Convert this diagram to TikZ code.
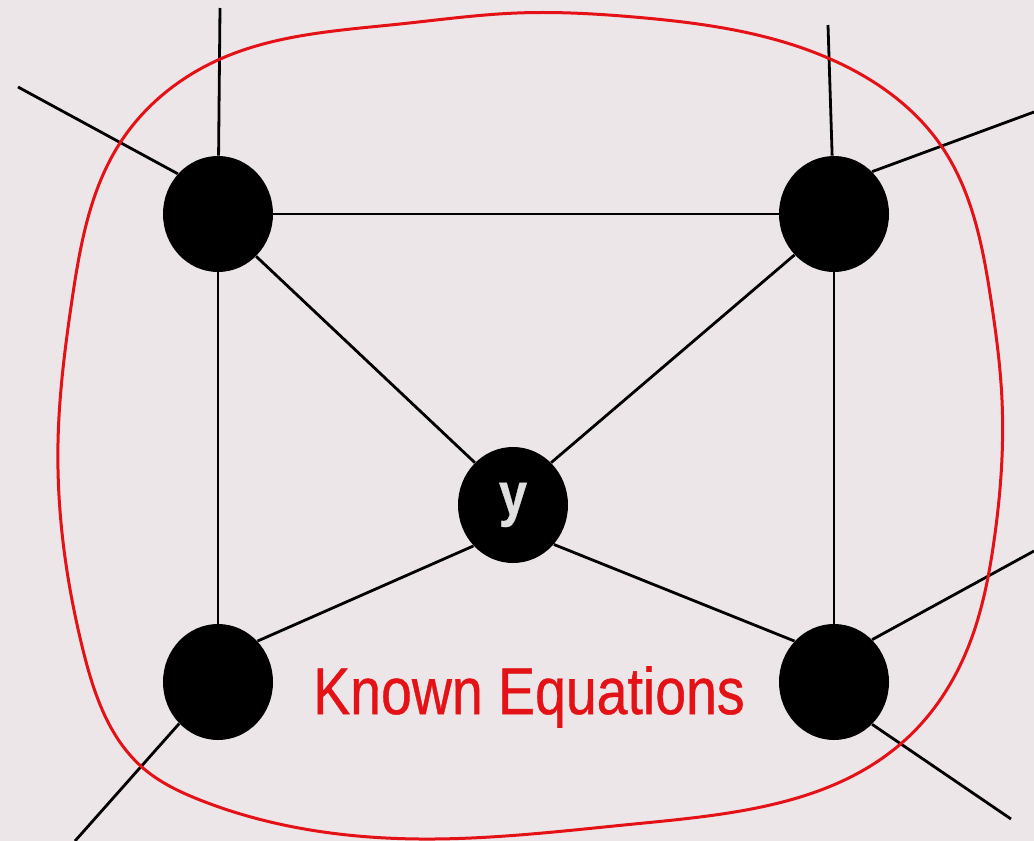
\documentclass[tikz,border=0pt]{standalone}
\usepackage{fontspec}
\newfontfamily\labelfont[FakeStretch=0.84, FakeBold=0.6]{Liberation Sans}
\usetikzlibrary{shapes.geometric, hobby}
\definecolor{paper}{RGB}{236,230,232}
\definecolor{curvered}{RGB}{228,18,22}
\tikzstyle{var} = [
    ellipse,
    fill=black,
    minimum width=55pt,
    minimum height=58pt,
    inner sep=0pt
]
\tikzstyle{edge} = [line width=1.4pt, draw=black]
\tikzstyle{boundary} = [line width=1.5pt, draw=curvered]
\tikzstyle{eqlabel} = [
    text=curvered,
    font=\labelfont\fontsize{33}{33}\selectfont
]
\begin{document}
\begin{tikzpicture}[x=0.5pt, y=-0.5pt]

\path [use as bounding box, fill=paper] (0,0) rectangle (1034,841);

\node (var1) [var] at (218,214) {};
\node (var2) [var] at (834,214) {};
\node (var3) [var] at (218,682) {};
\node (var4) [var] at (834,682) {};

\node (unknown) [var, text=white!88!black,
    font=\labelfont\bfseries\fontsize{30}{30}\selectfont] at (513,505) {y};

\node (label) [eqlabel] at (529,697) {Known Equations};

\coordinate (top1) at (220,8);
\coordinate (top2) at (828,25);
\coordinate (end1) at (18,87);
\coordinate (end2) at (1034,112);
\coordinate (end3) at (1034,551);
\coordinate (end4) at (1011,819);
\coordinate (end5) at (75,841);

\draw [edge] (top1) -- (var1);
\draw [edge] (top2) -- (var2);
\draw [edge] (var1) -- (var3);
\draw [edge] (var2) -- (var4);
\draw [edge] (var1) -- (var2);

\draw [edge] (var1.312) -- (unknown.132);
\draw [edge] (var2.226) -- (unknown.48);
\draw [edge] (var3.46) -- (unknown.226);
\draw [edge] (var4.134) -- (unknown.316);

\draw [edge] (end1) -- (var1.135);
\draw [edge] (var2.48) -- (end2);
\draw [edge] (var4.48) -- (end3);
\draw [edge] (var4.312) -- (end4);
\draw [edge] (var3.227) -- (end5);

% known region
\draw [boundary, use Hobby shortcut, closed=true]
    (517,13) .. (634,17) .. (828,58) .. (942,147) .. (991,300) .. (1002,400)
    .. (994,541) .. (967,650) .. (904,741) .. (634,824) .. (420,839)
    .. (200,800) .. (143,768) .. (83,650) .. (58,443) .. (72,300)
    .. (120,143) .. (218,60) .. (400,24);

\end{tikzpicture}
\end{document}
